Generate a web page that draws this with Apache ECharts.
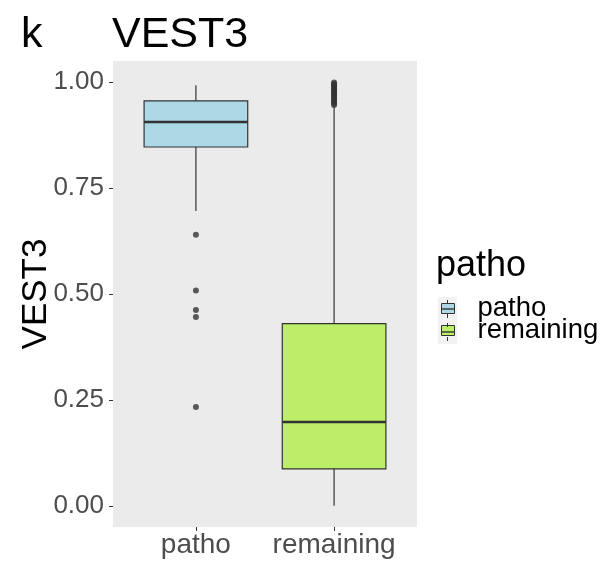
<!DOCTYPE html>
<html>
<head>
<meta charset="utf-8">
<script src="https://cdn.jsdelivr.net/npm/echarts@6.0.0/dist/echarts.min.js"></script>
<style>
  html, body { margin: 0; padding: 0; background: #ffffff; }
  #chart { width: 603px; height: 564px; }
</style>
</head>
<body>
<div id="chart"></div>
<script>
// Groups along the x axis
const categories = ['patho', 'remaining'];
// Five-number summaries per group: [lower whisker, Q1, median, Q3, upper whisker]
const boxStats = [
  [0.696, 0.847, 0.906, 0.956, 0.993],
  [0.000, 0.087, 0.198, 0.430, 0.943]
];
// Points beyond the whiskers, per group
const outliers = [
  [0.640, 0.508, 0.462, 0.446, 0.233],
  [0.946, 0.950, 0.953, 0.958, 0.961, 0.965, 0.969, 0.972, 0.976, 0.979,
   0.983, 0.986, 0.990, 0.993, 0.996, 0.999]
];
// Fill colours per group
const fills = ['#ADD8E6', '#BCEE68'];
// Y axis tick values
const yTicks = [0, 0.25, 0.5, 0.75, 1.0];

const FONT = '"Liberation Sans", Arial, Helvetica, sans-serif';
const LINE = '#333333';

const chart = echarts.init(document.getElementById('chart'), null, { renderer: 'canvas' });

function renderBox(params, api) {
  const x = api.value(0);
  const lo = api.value(1), q1 = api.value(2), med = api.value(3), q3 = api.value(4), hi = api.value(5);
  const halfW = api.size([0.75, 0])[0] / 2;
  const pLo = api.coord([x, lo]);
  const pQ1 = api.coord([x, q1]);
  const pMed = api.coord([x, med]);
  const pQ3 = api.coord([x, q3]);
  const pHi = api.coord([x, hi]);
  const cx = pMed[0];
  const stroke = { stroke: LINE, lineWidth: 1.2 };
  return {
    type: 'group',
    children: [
      { type: 'line', shape: { x1: cx, y1: pLo[1], x2: cx, y2: pQ1[1] }, style: stroke },
      { type: 'line', shape: { x1: cx, y1: pQ3[1], x2: cx, y2: pHi[1] }, style: stroke },
      { type: 'rect', shape: { x: cx - halfW, y: pQ3[1], width: halfW * 2, height: pQ1[1] - pQ3[1] },
        style: { fill: api.visual('color'), stroke: LINE, lineWidth: 1.2 } },
      { type: 'line', shape: { x1: cx - halfW, y1: pMed[1], x2: cx + halfW, y2: pMed[1] },
        style: { stroke: LINE, lineWidth: 2.6 } }
    ]
  };
}

const series = [];
categories.forEach((name, i) => {
  series.push({
    name: name,
    type: 'custom',
    renderItem: renderBox,
    itemStyle: { color: fills[i] },
    encode: { x: 0, y: [1, 2, 3, 4, 5] },
    data: [[i + 1].concat(boxStats[i])],
    z: 2
  });
});
categories.forEach((name, i) => {
  series.push({
    name: name + '-outliers',
    type: 'scatter',
    symbol: 'circle',
    symbolSize: 6,
    itemStyle: { color: LINE },
    data: outliers[i].map(v => [i + 1, v]),
    z: 3,
    silent: true
  });
});

// Legend key glyphs: whisker stubs and median bar drawn over each key
function keyGlyph(cy) {
  return [
    { type: 'line', shape: { x1: 447.5, y1: cy - 9, x2: 447.5, y2: cy - 5 }, style: { stroke: LINE, lineWidth: 1 }, z: 100 },
    { type: 'line', shape: { x1: 447.5, y1: cy + 5, x2: 447.5, y2: cy + 9 }, style: { stroke: LINE, lineWidth: 1 }, z: 100 },
    { type: 'line', shape: { x1: 441, y1: cy, x2: 454, y2: cy }, style: { stroke: LINE, lineWidth: 1.4 }, z: 100 }
  ];
}

const option = {
  backgroundColor: '#ffffff',
  animation: false,
  title: [
    { text: 'VEST3', left: 107, top: 9, textStyle: { fontFamily: FONT, fontSize: 43, fontWeight: 'normal', color: '#000' } },
    { text: 'k', left: 16, top: 9, textStyle: { fontFamily: FONT, fontSize: 43, fontWeight: 'normal', color: '#000' } },
    { text: 'patho', left: 431, top: 243, textStyle: { fontFamily: FONT, fontSize: 36, fontWeight: 'normal', color: '#000' } }
  ],
  grid: {
    left: 113, top: 61, width: 304, height: 466,
    show: true, backgroundColor: '#EBEBEB', borderWidth: 0
  },
  legend: {
    orient: 'vertical',
    left: 441, top: 294.5,
    padding: 0,
    itemWidth: 13, itemHeight: 10, itemGap: -6,
    icon: 'rect',
    data: categories,
    itemStyle: { borderColor: LINE, borderWidth: 1 },
    textStyle: { fontFamily: FONT, fontSize: 27.5, color: '#000', padding: [0, 0, 0, 18] },
    selectedMode: false
  },
  xAxis: {
    type: 'value',
    min: 0.4, max: 2.6,
    splitLine: { show: false },
    axisLine: { show: false, onZero: false },
    axisTick: { show: true, length: 4, customValues: [1, 2], lineStyle: { color: LINE, width: 1 } },
    axisLabel: {
      customValues: [1, 2],
      formatter: v => categories[Math.round(v) - 1],
      fontFamily: FONT, fontSize: 28, color: '#4D4D4D', margin: 4
    }
  },
  yAxis: {
    type: 'value',
    min: -0.05, max: 1.05,
    name: 'VEST3',
    nameLocation: 'middle',
    nameRotate: 90,
    nameGap: 59,
    nameMoveOverlap: false,
    nameTextStyle: { fontFamily: FONT, fontSize: 35, color: '#000' },
    splitLine: { show: false },
    axisLine: { show: false, onZero: false },
    axisTick: { show: true, length: 4, customValues: yTicks, lineStyle: { color: LINE, width: 1 } },
    axisLabel: {
      customValues: yTicks,
      formatter: v => v.toFixed(2),
      fontFamily: FONT, fontSize: 26, color: '#4D4D4D', margin: 9
    }
  },
  graphic: [
    { type: 'rect', shape: { x: 438, y: 297, width: 19, height: 47 }, style: { fill: '#F2F2F2' }, z: -1 }
  ].concat(keyGlyph(309), keyGlyph(332)),
  series: series
};

chart.setOption(option);
</script>
</body>
</html>
